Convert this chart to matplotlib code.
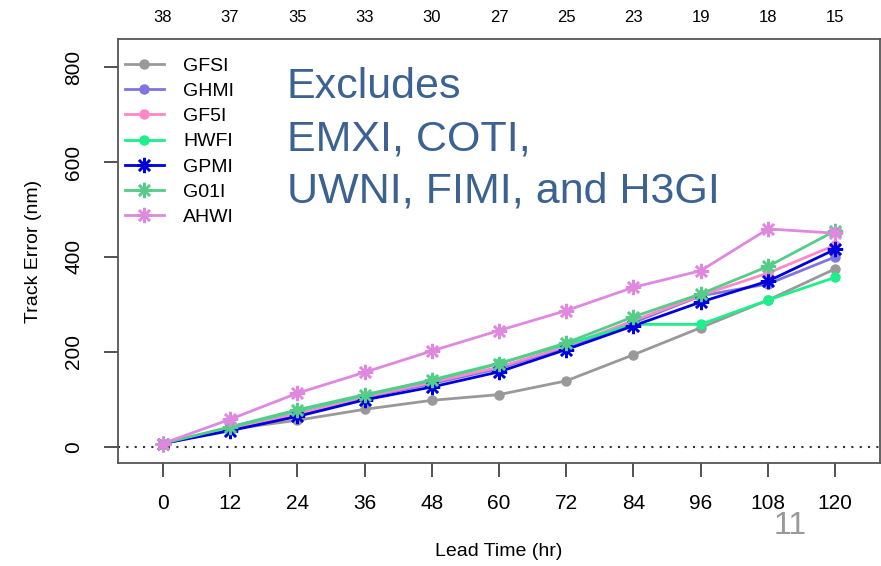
import matplotlib
matplotlib.use("Agg")
import matplotlib.pyplot as plt

plt.rcParams['font.family'] = ['Liberation Sans', 'DejaVu Sans']

lead_times = [0, 12, 24, 36, 48, 60, 72, 84, 96, 108, 120]
case_counts = [38, 37, 35, 33, 30, 27, 25, 23, 19, 18, 15]

models = ['GFSI', 'GHMI', 'GF5I', 'HWFI', 'GPMI', 'G01I', 'AHWI']
gfsi = [7, 37, 56, 79, 98, 110, 139, 194, 251, 309, 375]
ghmi = [7, 38, 68, 104, 133, 165, 210, 262, 318, 343, 400]
gf5i = [7, 39, 70, 105, 136, 168, 212, 266, 319, 366, 425]
hwfi = [7, 41, 76, 108, 141, 176, 216, 258, 258, 309, 357]
gpmi = [7, 34, 64, 99, 126, 158, 205, 255, 305, 349, 416]
g01i = [7, 42, 78, 110, 140, 175, 219, 274, 322, 380, 455]
ahwi = [7, 58, 113, 157, 202, 245, 287, 336, 371, 459, 450]
series = [gfsi, ghmi, gf5i, hwfi, gpmi, g01i, ahwi]

colors = ['#999999', '#8074e0', '#ff88c8', '#1cf08a', '#0000dd', '#55cc88', '#e088e0']
ast = (8, 2, 0)
markers = ['o', 'o', 'o', 'o', ast, ast, ast]

fig = plt.figure(figsize=(8.81, 5.66), dpi=100)
ax = fig.add_axes([118/881, 103/566, 762/881, 424/566])

ax.axhline(0, color='#333333', linestyle=(0, (1, 3)), linewidth=1.5, zorder=1)

for name, vals, c, m in zip(models, series, colors, markers):
    if m == 'o':
        ax.plot(lead_times, vals, color=c, marker='o', markersize=6.5,
                linewidth=2, label=name, zorder=3)
    else:
        ax.plot(lead_times, vals, color=c, marker=m, markersize=11,
                markeredgewidth=1.8, linewidth=2, label=name, zorder=3)

ax.set_xlim(-8, 128)
ax.set_ylim(-34, 859)
ax.set_xticks(lead_times)
ax.set_xticklabels([str(t) for t in lead_times])
ax.set_yticks([0, 200, 400, 600, 800])
ax.set_yticklabels(['0', '200', '400', '600', '800'], rotation=90, va='center')
ax.tick_params(axis='both', direction='out', length=10, width=1.2,
               color='#333333', labelsize=15, pad=12)
ax.tick_params(axis='y', pad=15)
for s in ax.spines.values():
    s.set_color('#555555')
    s.set_linewidth(1.3)

ax.set_xlabel('Lead Time (hr)', fontsize=14, labelpad=22)
ax.set_ylabel('Track Error (nm)', fontsize=14, labelpad=16)

top = ax.twiny()
top.set_xlim(ax.get_xlim())
top.set_xticks(lead_times)
top.set_xticklabels([str(n) for n in case_counts])
top.tick_params(axis='x', length=0, labelsize=12, pad=10)
for s in top.spines.values():
    s.set_visible(False)

leg = ax.legend(loc='upper left', bbox_to_anchor=(0.004, 0.966), frameon=False,
                fontsize=14, handlelength=2.0, handletextpad=1.0,
                labelspacing=0.39, borderaxespad=0.1, borderpad=0.1)

fig.text(287/881, 1 - 67/566, 'Excludes\nEMXI, COTI,\nUWNI, FIMI, and H3GI',
         fontsize=31, color='#3b6290', va='top', ha='left', linespacing=1.4)
fig.text(790/881, 1 - 526/566, '11', fontsize=23, color='#999999',
         ha='center', va='center')

fig.savefig('out.png', dpi=100)
